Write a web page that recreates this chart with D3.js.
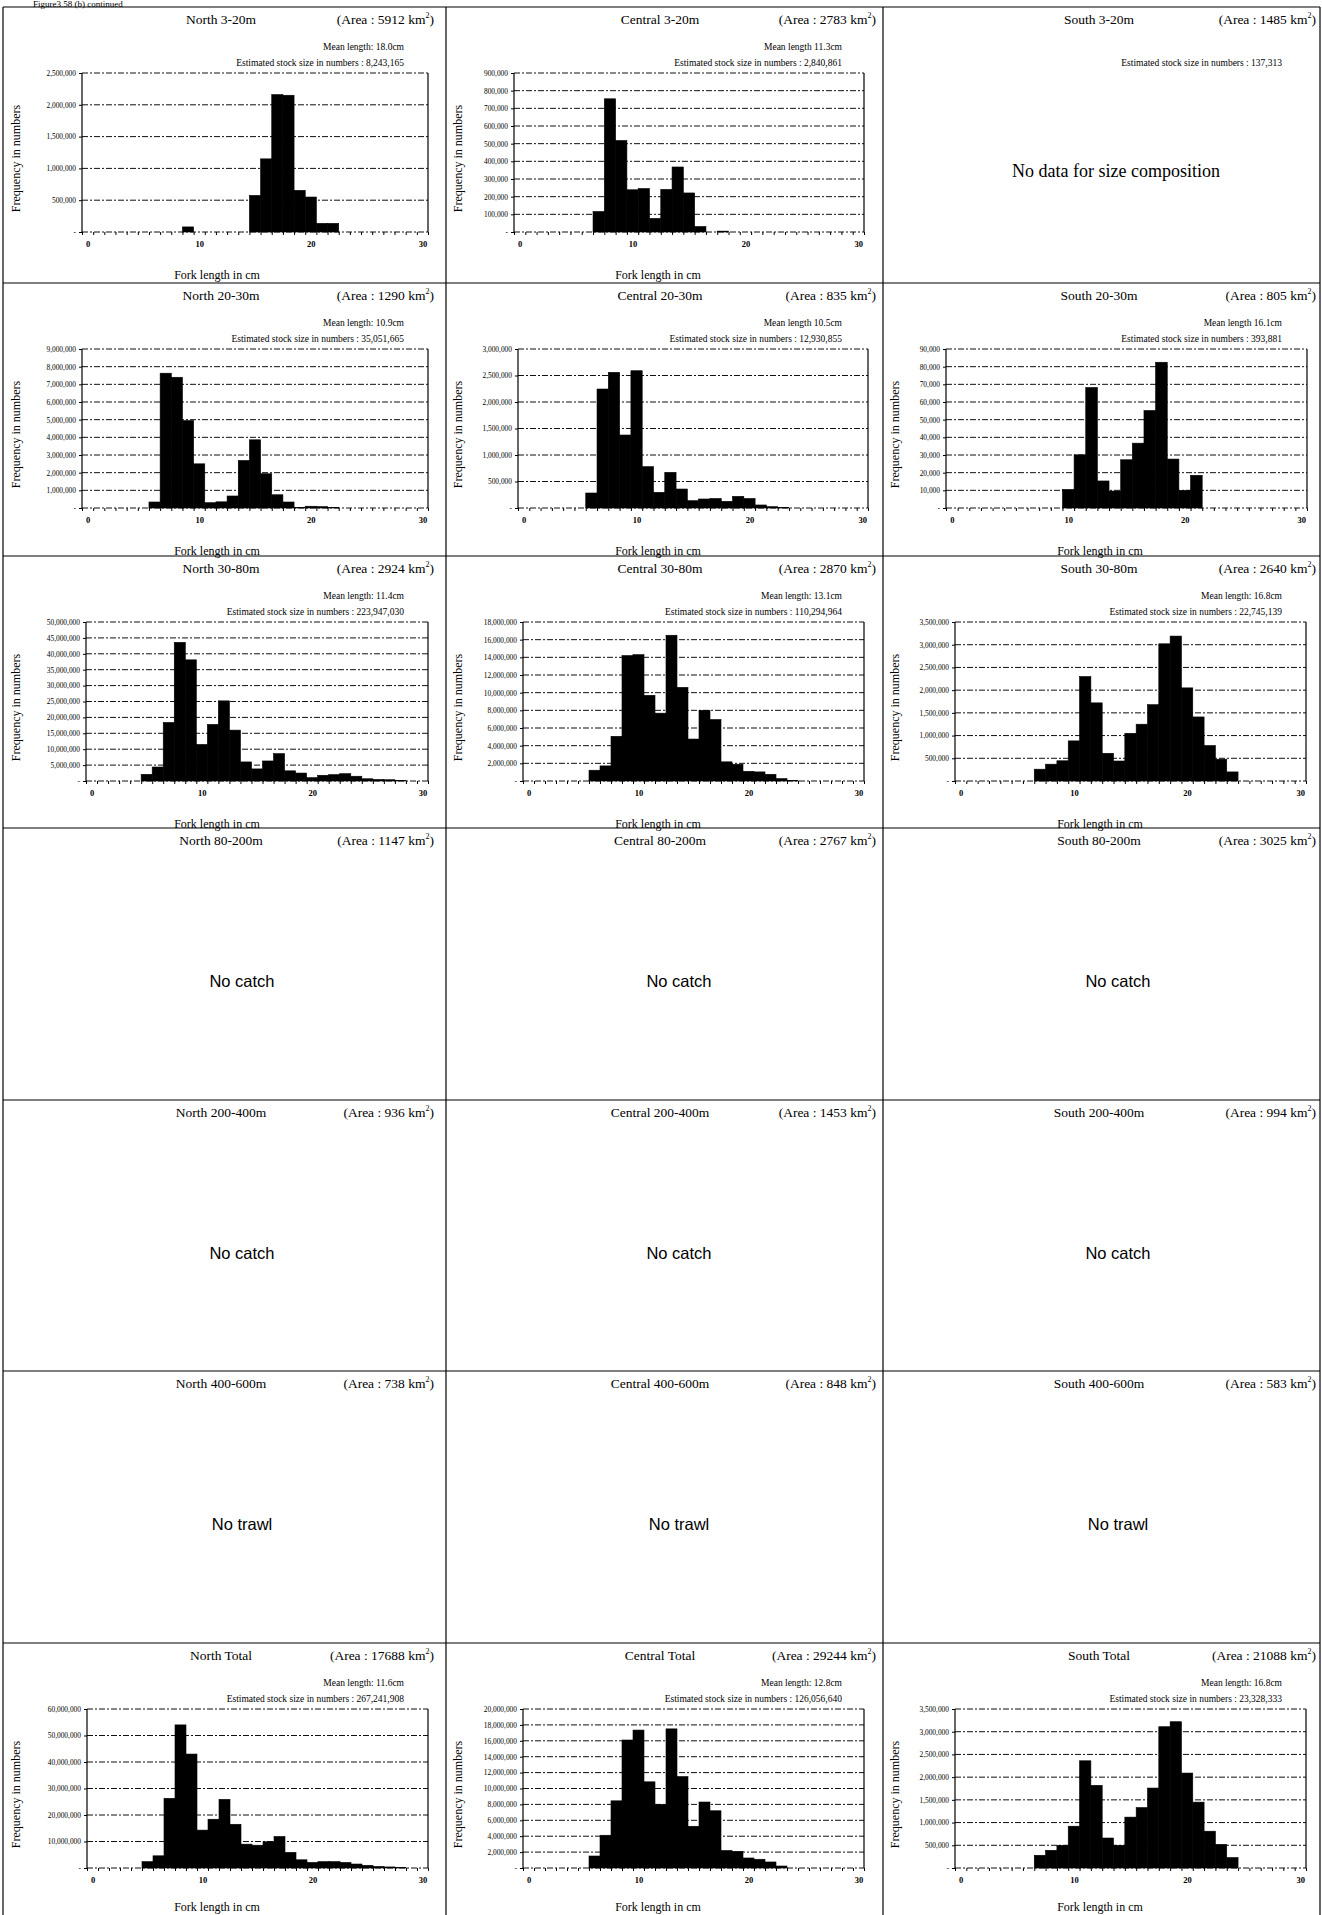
<!DOCTYPE html>
<html><head><meta charset="utf-8">
<script src="https://cdn.jsdelivr.net/npm/d3@7"></script>
<style>
body{margin:0;background:#fff;}
svg{display:block;}
text{font-family:"Liberation Serif","Times New Roman",serif;fill:#000;}
</style></head><body>
<svg id="fig" width="1322" height="1915"></svg>
<script>
// ---------- DATA ----------
const lengthsCm = [0,1,2,3,4,5,6,7,8,9,10,11,12,13,14,15,16,17,18,19,20,21,22,23,24,25,26,27,28,29,30];
const xTickLabels = [0,10,20,30];

const north_3_20 = [0,0,0,0,0,0,0,0,0,80000, 0,0,0,0,0,575000,1150000,2160000,2150000,655000, 550000,136000,136000,0,0,0,0,0,0,0,0];
const central_3_20 = [0,0,0,0,0,0,0,116000,754000,518000, 239000,246000,77000,241000,368000,221000,31000,0,5000,0, 0,0,0,0,0,0,0,0,0,0,0];
const north_20_30 = [0,0,0,0,0,0,340000,7630000,7400000,4950000, 2500000,300000,350000,680000,2690000,3860000,1940000,750000,340000,30000, 100000,80000,20000,0,0,0,0,0,0,0,0];
const central_20_30 = [0,0,0,0,0,0,283000,2245000,2560000,1377000, 2590000,780000,296000,673000,358000,138000,170000,180000,126000,220000, 180000,57000,25000,10000,0,0,0,0,0,0,0];
const south_20_30 = [0,0,0,0,0,0,0,0,0,0, 10500,30100,68200,15300,9600,27300,36700,55200,82500,27700, 10000,18500,0,0,0,0,0,0,0,0,0];
const north_30_80 = [0,0,0,0,0,2100000,4400000,18400000,43600000,38100000, 11500000,17800000,25200000,16000000,6000000,3800000,6300000,8600000,3200000,2500000, 1050000,1800000,2000000,2300000,1500000,700000,500000,400000,200000,0,0];
const central_30_80 = [0,0,0,0,0,0,1220000,1710000,5060000,14200000, 14300000,9700000,7680000,16500000,10600000,4750000,8000000,6960000,2170000,1900000, 1100000,1030000,760000,270000,50000,0,0,0,0,0,0];
const south_30_80 = [0,0,0,0,0,0,0,260000,370000,445000, 883000,2300000,1720000,610000,440000,1050000,1250000,1680000,3020000,3190000, 2050000,1410000,780000,480000,200000,0,0,0,0,0,0];
const north_total = [0,0,0,0,0,2400000,4600000,26300000,54000000,43000000, 14300000,18400000,25900000,16500000,9000000,8600000,9900000,11900000,5900000,3100000, 2100000,2400000,2400000,2100000,1500000,1000000,600000,400000,200000,0,0];
const central_total = [0,0,0,0,0,0,1510000,4120000,8450000,16100000, 17350000,10840000,8000000,17500000,11500000,5250000,8300000,7200000,2200000,2100000, 1260000,1100000,760000,250000,0,0,0,0,0,0,0];
const south_total = [0,0,0,0,0,0,0,280000,390000,500000, 920000,2360000,1820000,660000,500000,1120000,1330000,1760000,3110000,3220000, 2090000,1450000,810000,520000,230000,0,0,0,0,0,0];

// y-axis tick values
const ticks_n_3_20 = [0,500000,1000000,1500000,2000000,2500000];
const ticks_c_3_20 = [0,100000,200000,300000,400000,500000,600000,700000,800000,900000];
const ticks_n_20_30 = [0,1000000,2000000,3000000,4000000,5000000,6000000,7000000,8000000,9000000];
const ticks_c_20_30 = [0,500000,1000000,1500000,2000000,2500000,3000000];
const ticks_s_20_30 = [0,10000,20000,30000,40000,50000,60000,70000,80000,90000];
const ticks_n_30_80 = [0,5000000,10000000,15000000,20000000,25000000,30000000,35000000,40000000,45000000,50000000];
const ticks_c_30_80 = [0,2000000,4000000,6000000,8000000,10000000,12000000,14000000,16000000,18000000];
const ticks_s_30_80 = [0,500000,1000000,1500000,2000000,2500000,3000000,3500000];
const ticks_n_total = [0,10000000,20000000,30000000,40000000,50000000,60000000];
const ticks_c_total = [0,2000000,4000000,6000000,8000000,10000000,12000000,14000000,16000000,18000000,20000000];
const ticks_s_total = [0,500000,1000000,1500000,2000000,2500000,3000000,3500000];

const panelTitles = [
  ["North 3-20m","Central 3-20m","South 3-20m"],
  ["North 20-30m","Central 20-30m","South 20-30m"],
  ["North 30-80m","Central 30-80m","South 30-80m"],
  ["North 80-200m","Central 80-200m","South 80-200m"],
  ["North 200-400m","Central 200-400m","South 200-400m"],
  ["North 400-600m","Central 400-600m","South 400-600m"],
  ["North Total","Central Total","South Total"]
];
const panelAreas = [
  ["5912","2783","1485"],
  ["1290","835","805"],
  ["2924","2870","2640"],
  ["1147","2767","3025"],
  ["936","1453","994"],
  ["738","848","583"],
  ["17688","29244","21088"]
];
const meanLengths = [
  ["Mean length: 18.0cm","Mean length 11.3cm",null],
  ["Mean length: 10.9cm","Mean length 10.5cm","Mean length 16.1cm"],
  ["Mean length: 11.4cm","Mean length: 13.1cm","Mean length: 16.8cm"],
  [null,null,null],[null,null,null],[null,null,null],
  ["Mean length: 11.6cm","Mean length: 12.8cm","Mean length: 16.8cm"]
];
const stockSizes = [
  ["8,243,165","2,840,861","137,313"],
  ["35,051,665","12,930,855","393,881"],
  ["223,947,030","110,294,964","22,745,139"],
  [null,null,null],[null,null,null],[null,null,null],
  ["267,241,908","126,056,640","23,328,333"]
];
const panelNotes = [
  [null,null,"No data for size composition"],
  [null,null,null],[null,null,null],
  ["No catch","No catch","No catch"],
  ["No catch","No catch","No catch"],
  ["No trawl","No trawl","No trawl"],
  [null,null,null]
];
const histData = [
  [[north_3_20,ticks_n_3_20],[central_3_20,ticks_c_3_20],null],
  [[north_20_30,ticks_n_20_30],[central_20_30,ticks_c_20_30],[south_20_30,ticks_s_20_30]],
  [[north_30_80,ticks_n_30_80],[central_30_80,ticks_c_30_80],[south_30_80,ticks_s_30_80]],
  [null,null,null],[null,null,null],[null,null,null],
  [[north_total,ticks_n_total],[central_total,ticks_c_total],[south_total,ticks_s_total]]
];

// ---------- LAYOUT ----------
const W = 1322, H = 1915;
const rowTops = [7,283,556,828,1100,1371,1643];
const colLefts = [3,446,883];
const colRights = [446,883,1320];
const plotLefts = [[82,514,null],[82,518,946],[86,523,955],[0,0,0],[0,0,0],[0,0,0],[87,523,955]];
const plotRights = [[428,864,null],[428,868,1307],[428,864,1306],[0,0,0],[0,0,0],[0,0,0],[428,864,1306]];
const titleX = [221,660,1099];
const areaRight = [434,876,1316];
const infoRight = [404,842,1282];
const xTitleX = [217,658,1100];
const yTitleX = [20,462,899];
const noteX = [242,679,1118];

const svg = d3.select("#fig");
svg.append("rect").attr("width",W).attr("height",H).attr("fill","#fff");

// caption (sits at the very top edge)
svg.append("text").attr("x",33).attr("y",6.5).attr("font-size",9).text("Figure3.58 (b) continued");

// cell borders
const borders = svg.append("g").attr("stroke","#000").attr("stroke-width",1.2);
rowTops.forEach(t => borders.append("line").attr("x1",colLefts[0]).attr("x2",colRights[2]).attr("y1",t).attr("y2",t));
[colLefts[0],colLefts[1],colLefts[2],colRights[2]].forEach(x =>
  borders.append("line").attr("x1",x).attr("x2",x).attr("y1",rowTops[0]).attr("y2",H));

const fmt = d3.format(",");

for (let r = 0; r < 7; r++) {
  for (let c = 0; c < 3; c++) {
    const top = rowTops[r];
    const g = svg.append("g");
    // title
    g.append("text").attr("x",titleX[c]).attr("y",top+17).attr("text-anchor","middle")
      .attr("font-size",13.5).text(panelTitles[r][c]);
    const at = g.append("text").attr("x",areaRight[c]).attr("y",top+17).attr("text-anchor","end")
      .attr("font-size",13.5);
    at.append("tspan").text("(Area : " + panelAreas[r][c] + "  km");
    at.append("tspan").attr("font-size",8).attr("dy",-6).text("2");
    at.append("tspan").attr("dy",6).text(")");
    if (meanLengths[r][c]) {
      g.append("text").attr("x",infoRight[c]).attr("y",top+43).attr("text-anchor","end")
        .attr("font-size",9.5).text(meanLengths[r][c]);
    }
    if (stockSizes[r][c]) {
      g.append("text").attr("x",infoRight[c]).attr("y",top+59).attr("text-anchor","end")
        .attr("font-size",9.5).text("Estimated stock size in numbers : " + stockSizes[r][c]);
    }
    const note = panelNotes[r][c];
    if (note) {
      if (note.startsWith("No data")) {
        g.append("text").attr("x",1116).attr("y",top+170).attr("text-anchor","middle")
          .attr("font-size",18).text(note);
      } else {
        g.append("text").attr("x",noteX[c]).attr("y",top+159).attr("text-anchor","middle")
          .attr("font-size",16.5).style("font-family","'Liberation Sans',Arial,sans-serif").text(note);
      }
    }
    const hd = histData[r][c];
    if (!hd) continue;
    const values = hd[0], ticks = hd[1];
    const pl = plotLefts[r][c], pr = plotRights[r][c];
    const pt = top + 66, pb = top + 225;
    const x = d3.scaleLinear().domain([-0.5,30.5]).range([pl,pr]);
    const y = d3.scaleLinear().domain([0,d3.max(ticks)]).range([pb,pt]);

    // gridlines
    g.append("g").selectAll("line").data(ticks).join("line")
      .attr("x1",pl).attr("x2",pr).attr("y1",d=>y(d)).attr("y2",d=>y(d))
      .attr("stroke","#111").attr("stroke-width",1).attr("stroke-dasharray","6,2,2,2");
    // side borders
    g.append("line").attr("x1",pl).attr("x2",pl).attr("y1",pt).attr("y2",pb).attr("stroke","#000").attr("stroke-width",1.2);
    g.append("line").attr("x1",pr).attr("x2",pr).attr("y1",pt).attr("y2",pb).attr("stroke","#000").attr("stroke-width",1.2);

    // bars
    const bars = lengthsCm.map((cm,i)=>({cm, v: values[i]})).filter(d=>d.v>0);
    g.append("g").selectAll("rect").data(bars).join("rect")
      .attr("x",d=>x(d.cm-0.5)).attr("width",d=>x(d.cm+0.5)-x(d.cm-0.5))
      .attr("y",d=>y(d.v)).attr("height",d=>pb-y(d.v))
      .attr("fill","#000").attr("stroke","#000").attr("stroke-width",0.6);

    // x category boundary ticks
    const xb = g.append("g").attr("transform",`translate(0,${pb})`)
      .call(d3.axisBottom(x).tickValues(lengthsCm.map(v=>v-0.5).concat([30.5])).tickSize(3).tickFormat(""));
    xb.select(".domain").remove();
    xb.selectAll("line").attr("stroke","#000");
    // x labels
    const xl = g.append("g").attr("transform",`translate(0,${pb})`)
      .call(d3.axisBottom(x).tickValues(xTickLabels).tickSize(0).tickPadding(9));
    xl.select(".domain").remove();
    xl.selectAll("text").attr("font-size",8.5).attr("font-weight","bold")
      .style("font-family","'Liberation Serif',serif");
    // y axis
    const ya = g.append("g").attr("transform",`translate(${pl},0)`)
      .call(d3.axisLeft(y).tickValues(ticks).tickSize(3).tickPadding(3)
        .tickFormat(d => d === 0 ? "-" : fmt(d)));
    ya.select(".domain").remove();
    ya.selectAll("line").attr("stroke","#000");
    ya.selectAll("text").attr("font-size",7.4).style("font-family","'Liberation Serif',serif");

    // axis titles
    g.append("text").attr("x",xTitleX[c]).attr("y",Math.min(pb+47, H-4)).attr("text-anchor","middle")
      .attr("font-size",12).text("Fork length in cm");
    g.append("text").attr("transform",`translate(${yTitleX[c]},${(pt+pb)/2+6}) rotate(-90)`)
      .attr("text-anchor","middle").attr("font-size",12).text("Frequency in numbers");
  }
}
</script></body></html>
